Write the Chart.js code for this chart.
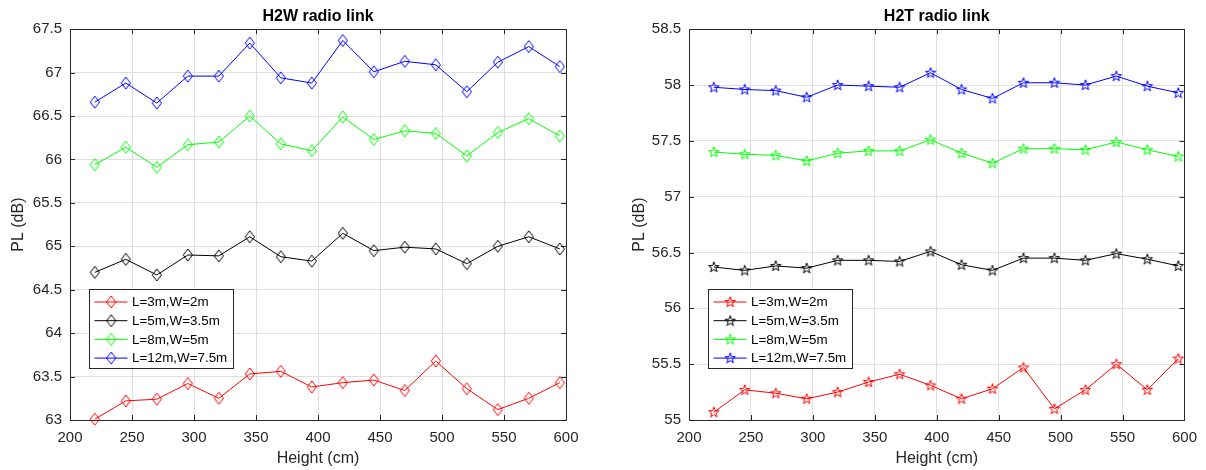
<!DOCTYPE html>
<html>
<head>
<meta charset="utf-8">
<script src="https://cdn.jsdelivr.net/npm/chart.js@4.4.1/dist/chart.umd.min.js"></script>
<style>
  html, body { margin:0; padding:0; background:#fff; }
  #wrap { position:relative; width:1206px; height:470px; }
  canvas { position:absolute; top:0; }
</style>
</head>
<body>
<div id="wrap">
  <canvas id="h2w" width="603" height="470" style="left:0"></canvas>
  <canvas id="h2t" width="603" height="470" style="left:603px"></canvas>
</div>
<script>
const heights = [220, 245, 270, 295, 320, 345, 370, 395, 420, 445, 470, 495, 520, 545, 570, 595];
const seriesLabels = ['L=3m,W=2m', 'L=5m,W=3.5m', 'L=8m,W=5m', 'L=12m,W=7.5m'];

// H2W radio link, PL (dB)
const h2wL3  = [63.01, 63.22, 63.24, 63.42, 63.25, 63.53, 63.56, 63.38, 63.43, 63.46, 63.34, 63.68, 63.36, 63.12, 63.25, 63.43];
const h2wL5  = [64.70, 64.85, 64.67, 64.90, 64.89, 65.11, 64.88, 64.83, 65.15, 64.95, 64.99, 64.97, 64.80, 65.00, 65.11, 64.97];
const h2wL8  = [65.94, 66.14, 65.91, 66.17, 66.20, 66.50, 66.18, 66.10, 66.49, 66.23, 66.33, 66.30, 66.04, 66.31, 66.47, 66.27];
const h2wL12 = [66.66, 66.88, 66.65, 66.96, 66.96, 67.34, 66.94, 66.88, 67.37, 67.01, 67.13, 67.09, 66.78, 67.12, 67.30, 67.07];

// H2T radio link, PL (dB)
const h2tL3  = [55.07, 55.27, 55.24, 55.19, 55.25, 55.34, 55.41, 55.31, 55.19, 55.28, 55.47, 55.10, 55.27, 55.50, 55.27, 55.55];
const h2tL5  = [56.37, 56.34, 56.38, 56.36, 56.43, 56.43, 56.42, 56.51, 56.39, 56.34, 56.45, 56.45, 56.43, 56.49, 56.44, 56.38];
const h2tL8  = [57.40, 57.38, 57.37, 57.32, 57.39, 57.41, 57.41, 57.51, 57.39, 57.30, 57.43, 57.43, 57.42, 57.49, 57.42, 57.36];
const h2tL12 = [57.98, 57.96, 57.95, 57.89, 58.00, 57.99, 57.98, 58.11, 57.96, 57.88, 58.02, 58.02, 58.00, 58.08, 57.99, 57.93];

const heightTicks = [200, 250, 300, 350, 400, 450, 500, 550, 600];
const h2wTicks = [63, 63.5, 64, 64.5, 65, 65.5, 66, 66.5, 67, 67.5];
const h2tTicks = [55, 55.5, 56, 56.5, 57, 57.5, 58, 58.5];

const colors = ['#ff0000', '#000000', '#00ff00', '#0000ff'];
const FONT = '"Liberation Sans", Arial, Helvetica, sans-serif';
const INK = '#262626';

function makeMarker(shape, color){
  const c = document.createElement('canvas');
  c.width = 14; c.height = 14;
  const g = c.getContext('2d');
  g.strokeStyle = color; g.lineWidth = 1;
  g.beginPath();
  if (shape === 'diamond'){
    g.moveTo(7, 1); g.lineTo(11.6, 7); g.lineTo(7, 13); g.lineTo(2.4, 7);
  } else {
    for (let i = 0; i < 10; i++){
      const a = -Math.PI/2 + i*Math.PI/5;
      const r = i % 2 ? 2.2 : 5.5;
      const px = 7 + r*Math.cos(a), py = 7.3 + r*Math.sin(a);
      i ? g.lineTo(px, py) : g.moveTo(px, py);
    }
  }
  g.closePath();
  g.stroke();
  return c;
}

// axes box with inward ticks (drawn under the data like matlab)
const boxPlugin = {
  id: 'box',
  beforeDatasetsDraw(chart){
    const a = chart.chartArea, ctx = chart.ctx;
    const xs = chart.scales.x, ys = chart.scales.y;
    ctx.save();
    ctx.strokeStyle = INK; ctx.lineWidth = 1;
    ctx.strokeRect(Math.round(a.left)+0.5, Math.round(a.top)+0.5, Math.round(a.right-a.left), Math.round(a.bottom-a.top));
    ctx.beginPath();
    for (const v of heightTicks){
      const px = Math.round(xs.getPixelForValue(v))+0.5;
      ctx.moveTo(px, a.bottom); ctx.lineTo(px, a.bottom-5);
      ctx.moveTo(px, a.top); ctx.lineTo(px, a.top+5);
    }
    for (const t of ys.ticks){
      const py = Math.round(ys.getPixelForValue(t.value))+0.5;
      ctx.moveTo(a.left, py); ctx.lineTo(a.left+5, py);
      ctx.moveTo(a.right, py); ctx.lineTo(a.right-5, py);
    }
    ctx.stroke();
    ctx.restore();
  }
};

const legendPlugin = {
  id: 'boxLegend',
  afterDraw(chart){
    const a = chart.chartArea, ctx = chart.ctx;
    const bx = Math.round(a.left + 19) + 0.5, by = 289.5, bw = 144, bh = 79;
    ctx.save();
    ctx.fillStyle = '#fff';
    ctx.fillRect(bx, by, bw, bh);
    ctx.strokeStyle = INK; ctx.lineWidth = 1;
    ctx.strokeRect(bx, by, bw, bh);
    ctx.font = '13.4px ' + FONT;
    ctx.textBaseline = 'middle';
    chart.data.datasets.forEach((ds, i) => {
      const y = by + 12.5 + i*18.7;
      ctx.strokeStyle = ds.borderColor;
      ctx.beginPath(); ctx.moveTo(bx+5, y); ctx.lineTo(bx+38, y); ctx.stroke();
      const m = ds.pointStyle;
      ctx.drawImage(m, bx+21.7-m.width/2, y-m.height/2);
      ctx.fillStyle = '#000';
      ctx.fillText(ds.label, bx+42.5, y+0.5);
    });
    ctx.restore();
  }
};

function makeChart(id, title, series, yTicks, shape, padRight, yWidth, yTitlePad){
  const datasets = series.map((vals, i) => ({
    label: seriesLabels[i],
    data: heights.map((h, k) => ({x: h, y: vals[k]})),
    borderColor: colors[i],
    borderWidth: 1,
    pointStyle: makeMarker(shape, colors[i]),
    pointRadius: 5,
    pointHoverRadius: 5,
    tension: 0,
    clip: false
  }));
  return new Chart(document.getElementById(id), {
    type: 'line',
    data: { datasets },
    options: {
      responsive: false,
      animation: false,
      devicePixelRatio: 1,
      layout: { padding: { left: 0, right: padRight, top: 0, bottom: 0 } },
      plugins: {
        legend: { display: false },
        tooltip: { enabled: false },
        title: {
          display: true, text: title, color: '#000', fullSize: false,
          font: { family: FONT, size: 16, weight: 'bold', lineHeight: 1.2 },
          padding: { top: 7, bottom: 3 }
        }
      },
      scales: {
        x: {
          type: 'linear', min: 200, max: 600,
          afterBuildTicks: s => { s.ticks = heightTicks.map(v => ({value: v})); },
          afterFit: s => { s.height = 50; },
          grid: { color: '#dfdfdf', drawTicks: false },
          border: { display: false },
          ticks: { color: INK, padding: 9, maxRotation: 0, font: { family: FONT, size: 15 }, callback: v => String(v) },
          title: { display: true, text: 'Height (cm)', color: INK, font: { family: FONT, size: 16, lineHeight: 1.2 }, padding: { top: 0, bottom: 1.5 } }
        },
        y: {
          type: 'linear', min: yTicks[0], max: yTicks[yTicks.length-1],
          afterBuildTicks: s => { s.ticks = yTicks.map(v => ({value: v})); },
          afterFit: s => { s.width = yWidth; },
          grid: { color: '#dfdfdf', drawTicks: false },
          border: { display: false },
          ticks: { color: INK, padding: 8, font: { family: FONT, size: 15 }, callback: v => String(v) },
          title: { display: true, text: 'PL (dB)', color: INK, font: { family: FONT, size: 16, lineHeight: 1.2 }, padding: { top: yTitlePad, bottom: 0 } }
        }
      }
    },
    plugins: [boxPlugin, legendPlugin]
  });
}

makeChart('h2w', 'H2W radio link', [h2wL3, h2wL5, h2wL8, h2wL12], h2wTicks, 'diamond', 37, 70, 9);
makeChart('h2t', 'H2T radio link', [h2tL3, h2tL5, h2tL8, h2tL12], h2tTicks, 'star', 20, 86, 27);
</script>
</body>
</html>
